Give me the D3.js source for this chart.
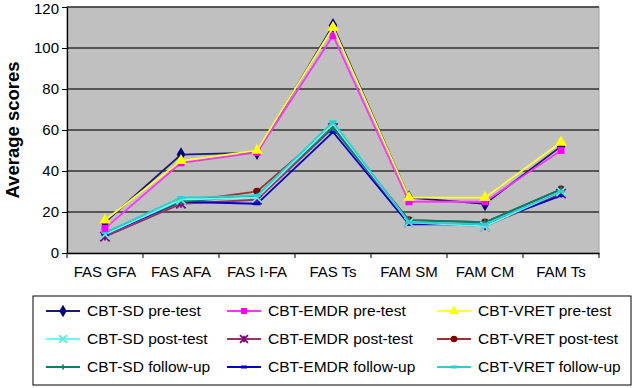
<!DOCTYPE html>
<html lang="en">
<head>
	<meta charset="utf-8">
	<title>Average scores</title>
	<script src='https://d3js.org/d3.v7.min.js'></script>
	<style>
		body { margin: 0; background: #fff; }
		text { font-family: "Liberation Sans", Arial, sans-serif; }
	</style>
</head>
<body>
	<div id="chart"></div>
	<script>
		// categories on the x axis
		let categories = ["FAS GFA", "FAS AFA", "FAS I-FA", "FAS Ts", "FAM SM", "FAM CM", "FAM Ts"];
		let yTicks = [0, 20, 40, 60, 80, 100, 120];

		// series names and values
		let seriesNames = ["CBT-SD pre-test", "CBT-EMDR pre-test", "CBT-VRET pre-test",
			"CBT-SD post-test", "CBT-EMDR post-test", "CBT-VRET post-test",
			"CBT-SD follow-up", "CBT-EMDR follow-up", "CBT-VRET follow-up"];
		let sdPre = [15, 48, 49, 111, 27, 24, 52];
		let emdrPre = [12, 44, 49, 106, 25, 25, 50];
		let vretPre = [16, 45, 50, 110, 27, 27, 54];
		let sdPost = [9, 26, 27, 63, 15, 13, 30];
		let emdrPost = [8, 24, 26, 61, 15, 13, 29];
		let vretPost = [10, 25, 30, 62, 16, 15, 31];
		let sdFollow = [10, 25, 28, 61, 16, 15, 31];
		let emdrFollow = [9, 25, 24, 59, 14, 14, 28];
		let vretFollow = [10, 27, 28, 64, 15, 14, 30];
		let seriesValues = [sdPre, emdrPre, vretPre, sdPost, emdrPost, vretPost, sdFollow, emdrFollow, vretFollow];

		let lineColors = ["#1a1a6e", "#ff33ff", "#ffff33", "#66ffee", "#993366", "#993333", "#00806b", "#0000cc", "#33cccc"];
		let markerColors = ["#000080", "#ff00ff", "#ffff00", "#55eedd", "#800080", "#800000", "#00806b", "#0000cc", "#33cccc"];
		let markers = ["diamond", "square", "triangle", "x", "star", "circle", "plus", "dash", "dash"];

		let width = 636, height = 388;
		let margin = { left: 67, right: 37, top: 7, bottom: 135 };

		let svg = d3.select("#chart").append("svg")
			.attr("width", width)
			.attr("height", height);

		let x = d3.scaleBand().domain(categories).range([margin.left, width - margin.right]);
		let y = d3.scaleLinear().domain([0, 120]).range([height - margin.bottom, margin.top]);

		// plot background
		svg.append("rect")
			.attr("x", x.range()[0]).attr("y", y(120))
			.attr("width", x.range()[1] - x.range()[0])
			.attr("height", y(0) - y(120))
			.attr("fill", "#c0c0c0")
			.attr("stroke", "#a0a0a0");

		// gridlines
		svg.append("g").selectAll("line")
			.data(yTicks.filter(d => d > 0))
			.enter().append("line")
			.attr("x1", x.range()[0]).attr("x2", x.range()[1])
			.attr("y1", d => y(d)).attr("y2", d => y(d))
			.attr("stroke", "#333").attr("stroke-width", 1.5);

		// axes
		let yAxis = svg.append("g")
			.attr("transform", "translate(" + margin.left + ",0)")
			.call(d3.axisLeft(y).tickValues(yTicks).tickSize(5).tickSizeOuter(0));
		let xAxis = svg.append("g")
			.attr("transform", "translate(0," + y(0) + ")")
			.call(d3.axisBottom(x).tickSize(5).tickSizeOuter(0));
		// ticks between categories like Excel
		xAxis.selectAll(".tick line").remove();
		xAxis.selectAll(".tick text").attr("dy", "1.05em");
		xAxis.append("g").selectAll("line")
			.data(d3.range(categories.length + 1))
			.enter().append("line")
			.attr("x1", i => x.range()[0] + i * x.step())
			.attr("x2", i => x.range()[0] + i * x.step())
			.attr("y1", 0).attr("y2", 5)
			.attr("stroke", "#000");
		[yAxis, xAxis].forEach(a => {
			a.select(".domain").attr("stroke", "#000").attr("stroke-width", 1.3);
			a.selectAll("line").attr("stroke", "#000");
			a.selectAll("text").attr("fill", "#000").style("font-size", "15px")
				.style("font-family", "'Liberation Sans', Arial, sans-serif");
		});
		yAxis.selectAll(".tick text").attr("x", -8);
		// keep the top label inside the picture
		yAxis.selectAll(".tick text").filter(d => d === 120).attr("y", 2);

		// y title
		svg.append("text")
			.attr("transform", "translate(19," + ((y(0) + y(120)) / 2) + ") rotate(-90)")
			.attr("text-anchor", "middle")
			.style("font-size", "18.5px").style("font-weight", "bold")
			.text("Average scores");

		function drawMarker(g, type, color, size) {
			let s = size;
			if (type === "diamond") {
				g.append("path").attr("d", d3.symbol(d3.symbolDiamond, s * s * 1.3)).attr("fill", color);
			} else if (type === "square") {
				g.append("path").attr("d", d3.symbol(d3.symbolSquare, s * s * 1.0)).attr("fill", color);
			} else if (type === "triangle") {
				g.append("path").attr("d", d3.symbol(d3.symbolTriangle, s * s * 1.2)).attr("fill", color);
			} else if (type === "circle") {
				g.append("circle").attr("r", s * 0.55).attr("fill", color);
			} else if (type === "x") {
				g.append("path").attr("d", d3.symbol(d3.symbolX, s * s * 1.2)).attr("stroke", color).attr("stroke-width", 1.8);
			} else if (type === "star") {
				g.append("path").attr("d", d3.symbol(d3.symbolX, s * s * 1.2)).attr("stroke", color).attr("stroke-width", 1.8);
				g.append("line").attr("x1", 0).attr("x2", 0).attr("y1", -s * 0.55).attr("y2", s * 0.55)
					.attr("stroke", color).attr("stroke-width", 1.8);
			} else if (type === "plus") {
				g.append("path").attr("d", d3.symbol(d3.symbolCross, s * s * 0.4)).attr("fill", color);
			} else if (type === "dash") {
				g.append("rect").attr("x", -s * 0.5).attr("y", -1.5).attr("width", s).attr("height", 3).attr("fill", color);
			}
		}

		let line = d3.line()
			.x((d, i) => x(categories[i]) + x.bandwidth() / 2)
			.y(d => y(d));

		// draw series: post and follow-up first, then pre-test on top
		let order = [5, 4, 7, 6, 3, 8, 0, 1, 2];
		order.forEach(k => {
			let vals = seriesValues[k];
			svg.append("path")
				.datum(vals)
				.attr("d", line)
				.attr("fill", "none")
				.attr("stroke", lineColors[k])
				.attr("stroke-width", 1.8);
			svg.append("g").selectAll("g")
				.data(vals)
				.enter().append("g")
				.attr("transform", (d, i) => "translate(" + (x(categories[i]) + x.bandwidth() / 2) + "," + y(d) + ")")
				.each(function() { drawMarker(d3.select(this), markers[k], markerColors[k], 7); });
		});

		// legend
		let legend = svg.append("g");
		legend.append("rect")
			.attr("x", 33).attr("y", 296).attr("width", 598).attr("height", 89)
			.attr("fill", "#fff").attr("stroke", "#000").attr("stroke-width", 1);
		let colX = [46, 227, 437];
		let rowY = [311, 339, 367];
		seriesNames.forEach((name, k) => {
			let gx = colX[k % 3], gy = rowY[Math.floor(k / 3)];
			let g = legend.append("g").attr("transform", "translate(" + gx + "," + gy + ")");
			g.append("line").attr("x1", 0).attr("x2", 34).attr("y1", 0).attr("y2", 0)
				.attr("stroke", lineColors[k]).attr("stroke-width", 1.8);
			let m = g.append("g").attr("transform", "translate(17,0)");
			drawMarker(m, markers[k], markerColors[k], 6);
			g.append("text").attr("x", 41).attr("y", 5)
				.style("font-size", "15.5px").attr("fill", "#000")
				.text(name);
		});
	</script>
</body>
</html>
